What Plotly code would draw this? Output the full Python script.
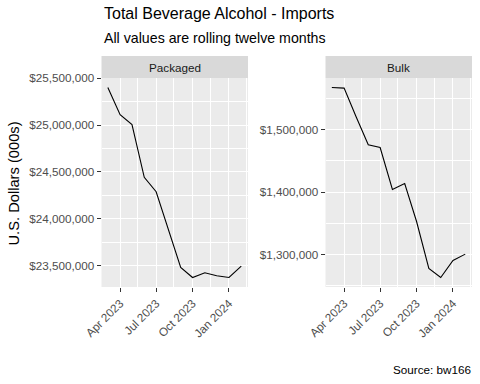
import plotly.graph_objects as go

months = ["2023-03-01", "2023-04-01", "2023-05-01", "2023-06-01", "2023-07-01", "2023-08-01",
          "2023-09-01", "2023-10-01", "2023-11-01", "2023-12-01", "2024-01-01", "2024-02-01"]
packaged = [25400000, 25111000, 25004000, 24443000, 24289000, 23880000,
            23482000, 23375000, 23425000, 23393000, 23375000, 23496000]
bulk = [1567200, 1566200, 1520800, 1475500, 1471200, 1404000,
        1413600, 1352800, 1277600, 1263200, 1290400, 1300600]
panels = ["Packaged", "Bulk"]

title = "Total Beverage Alcohol - Imports"
subtitle = "All values are rolling twelve months"
ytitle = "U.S. Dollars (000s)"
caption = "Source: bw166"

W, H = 480, 384
FONT = "Liberation Sans, Arial, sans-serif"
TICKC = "#4D4D4D"

def px_x(v):
    return v / W

def px_y(v):
    return 1 - v / H

fig = go.Figure()
fig.add_trace(go.Scatter(x=months, y=packaged, mode="lines", line=dict(color="black", width=1.1),
                         xaxis="x", yaxis="y", showlegend=False))
fig.add_trace(go.Scatter(x=months, y=bulk, mode="lines", line=dict(color="black", width=1.1),
                         xaxis="x2", yaxis="y2", showlegend=False))

def rng(vals):
    lo, hi = min(vals), max(vals)
    pad = (hi - lo) * 0.05
    return [lo - pad, hi + pad]

xr = ["2023-02-13", "2024-02-18"]
ydom = [px_y(287), px_y(78)]
xdoms = [[px_x(101.5), px_x(248)], [px_x(325.5), px_x(472)]]

common_x = dict(type="date", range=xr, tickmode="linear", tick0="2023-01-01", dtick="M3",
                tickformat="%b %Y", tickangle=-45, showgrid=True, gridcolor="white", gridwidth=1.1,
                zeroline=False, showline=False, ticks="outside", ticklen=4, tickwidth=1,
                tickcolor="#333333", tickfont=dict(family=FONT, size=11.7, color=TICKC),
                minor=dict(showgrid=True, gridcolor="white", gridwidth=0.55, tickmode="linear",
                           tick0="2023-02-15", dtick="M3", ticks=""),
                automargin=False)
common_y = dict(showgrid=True, gridcolor="white", gridwidth=1.1, zeroline=False, showline=False,
                ticks="outside", ticklen=4, tickwidth=1, tickcolor="#333333",
                tickfont=dict(family=FONT, size=11.7, color=TICKC), tickprefix="$",
                tickformat=",.0f", domain=ydom, automargin=False)

fig.update_layout(
    width=W, height=H, margin=dict(l=0, r=0, t=0, b=0),
    paper_bgcolor="white", plot_bgcolor="#EBEBEB",
    font=dict(family=FONT),
    xaxis=dict(common_x, domain=xdoms[0], anchor="y"),
    xaxis2=dict(common_x, domain=xdoms[1], anchor="y2"),
    yaxis=dict(common_y, range=rng(packaged), tickmode="linear", tick0=0, dtick=500000,
               minor=dict(showgrid=True, gridcolor="white", gridwidth=0.55, tickmode="linear",
                          tick0=250000, dtick=500000, ticks=""), anchor="x"),
    yaxis2=dict(common_y, range=rng(bulk), tickmode="linear", tick0=0, dtick=100000,
                minor=dict(showgrid=True, gridcolor="white", gridwidth=0.55, tickmode="linear",
                           tick0=50000, dtick=100000, ticks=""), anchor="x2"),
)

shapes = []
annotations = []
for i, name in enumerate(panels):
    x0, x1 = xdoms[i]
    shapes.append(dict(type="rect", xref="paper", yref="paper", x0=x0, x1=x1,
                       y0=px_y(78), y1=px_y(56), fillcolor="#D9D9D9", line=dict(width=0),
                       layer="below"))
    annotations.append(dict(text=name, xref="paper", yref="paper", x=(x0 + x1) / 2,
                            y=(px_y(78) + px_y(56)) / 2, xanchor="center", yanchor="middle",
                            showarrow=False, font=dict(family=FONT, size=11.7, color="#1A1A1A")))

annotations += [
    dict(text=title, xref="paper", yref="paper", x=px_x(102), y=px_y(13.7), xanchor="left",
         yanchor="middle", showarrow=False, font=dict(family=FONT, size=16, color="black")),
    dict(text=subtitle, xref="paper", yref="paper", x=px_x(102), y=px_y(38.1), xanchor="left",
         yanchor="middle", showarrow=False, font=dict(family=FONT, size=14.2, color="black")),
    dict(text=ytitle, xref="paper", yref="paper", x=px_x(14), y=px_y(183.5), xanchor="center",
         yanchor="middle", textangle=-90, showarrow=False,
         font=dict(family=FONT, size=14.7, color="black")),
    dict(text=caption, xref="paper", yref="paper", x=px_x(472.5), y=px_y(369), xanchor="right",
         yanchor="middle", showarrow=False, font=dict(family=FONT, size=11.7, color="black")),
]
fig.update_layout(shapes=shapes, annotations=annotations)

fig.write_html("out.html", config={"displayModeBar": False},
               post_script="document.body.style.margin='0';document.body.style.overflow='hidden';")
